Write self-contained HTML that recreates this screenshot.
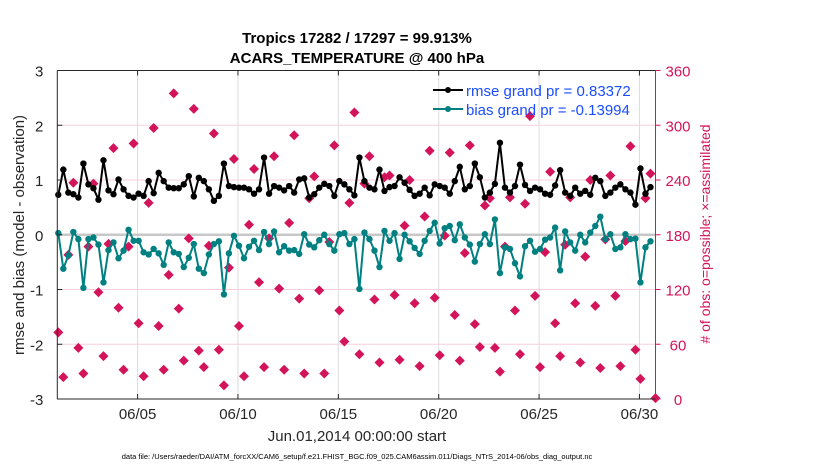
<!DOCTYPE html>
<html><head><meta charset="utf-8"><style>
body{margin:0;background:#fff;}
svg text{font-family:"Liberation Sans",Arial,sans-serif;}
</style></head><body>
<svg id="chart" width="830" height="470" viewBox="0 0 830 470" xmlns="http://www.w3.org/2000/svg">
<rect width="830" height="470" fill="#fff"/>
<g id="grid"></g>
<g id="marks"></g>
<g id="axes"></g>
<text x="357" y="43" text-anchor="middle" font-size="15" font-weight="bold">Tropics 17282 / 17297 = 99.913%</text>
<text x="357" y="63" text-anchor="middle" font-size="15" font-weight="bold">ACARS_TEMPERATURE @ 400 hPa</text>
<text x="357" y="441" text-anchor="middle" font-size="15" fill="#262626">Jun.01,2014 00:00:00 start</text>
<text x="357" y="459" text-anchor="middle" font-size="7.5" fill="#000">data file: /Users/raeder/DAI/ATM_forcXX/CAM6_setup/f.e21.FHIST_BGC.f09_025.CAM6assim.011/Diags_NTrS_2014-06/obs_diag_output.nc</text>
<text transform="translate(24,235) rotate(-90)" text-anchor="middle" font-size="15" fill="#262626">rmse and bias (model - observation)</text>
<text transform="translate(710,234) rotate(-90)" text-anchor="middle" font-size="14" fill="#d4145a"># of obs: o=possible; ×=assimilated</text>
<g>
<line x1="433" y1="90" x2="463" y2="90" stroke="#000" stroke-width="2"/>
<circle cx="448" cy="90" r="3" fill="#000"/>
<text x="466" y="96" font-size="15" fill="#1a4dff">rmse grand pr = 0.83372</text>
<line x1="433" y1="109" x2="463" y2="109" stroke="#008080" stroke-width="2"/>
<circle cx="448" cy="109" r="3" fill="#008080"/>
<text x="466" y="115" font-size="15" fill="#1a4dff">bias grand pr = -0.13994</text>
</g>
</svg>
<script>
const rmse=[0.73,1.19,0.77,0.74,0.68,1.30,0.92,0.85,0.64,1.36,0.81,0.74,1.01,0.83,0.71,0.68,0.75,0.71,0.98,0.76,1.13,0.98,0.86,0.85,0.85,0.92,1.07,0.70,1.04,0.98,0.83,
0.62,0.71,1.30,0.89,0.87,0.86,0.86,0.83,0.75,0.83,1.41,0.75,0.89,0.86,0.81,0.89,0.77,1.01,1.03,0.68,0.74,0.86,0.93,0.89,0.71,0.98,0.92,0.83,0.72,1.41,
0.98,0.86,0.83,1.19,0.80,0.87,0.89,1.05,0.95,0.82,0.71,0.75,0.86,0.72,0.92,0.89,0.86,0.75,0.98,1.24,0.83,0.89,1.30,1.05,0.68,0.77,0.93,1.68,0.86,
0.77,0.89,1.28,0.91,0.80,0.86,0.83,0.75,0.73,0.90,1.18,0.77,0.71,0.86,0.75,0.80,0.73,1.04,0.98,0.71,0.77,0.86,0.92,0.83,0.77,0.55,1.21,0.75,0.87];
const bias=[0.03,-0.62,-0.38,0.05,-0.08,-0.97,-0.08,-0.05,-0.18,-0.87,-0.28,-0.14,-0.43,-0.29,0.09,-0.11,-0.11,-0.32,-0.36,-0.26,-0.34,-0.55,-0.14,-0.32,-0.35,-0.59,-0.42,-0.17,-0.62,-0.70,-0.36,
-0.17,-0.12,-1.09,-0.34,-0.02,-0.2,-0.43,-0.22,-0.11,-0.28,0.05,-0.17,0.06,-0.32,-0.21,-0.29,-0.28,-0.35,0.01,-0.18,-0.23,-0.1,0,-0.17,-0.29,0.01,0.03,-0.17,-0.08,
-0.99,0.04,-0.08,-0.29,-0.59,0.07,-0.11,0.03,-0.44,0,-0.12,-0.24,-0.35,-0.11,0.07,0.22,-0.16,0.12,0.16,-0.1,0.19,-0.05,-0.18,-0.49,-0.17,0.01,-0.17,0.28,-0.70,-0.23,
-0.26,-0.52,-0.76,-0.21,-0.11,-0.31,-0.26,-0.09,-0.05,0.13,-0.65,0.06,-0.14,-0.29,0,-0.14,0.04,0.16,0.33,-0.08,0.01,-0.26,-0.23,0.01,-0.08,-0.07,-0.87,-0.23,-0.12];
const nobs=[73,24,158,237,56,28,167,236,117,47,170,275,100,32,167,280,83,25,215,297,80,32,136,335,99,42,176,318,53,35,168,
291,54,15,144,263,80,25,191,252,128,35,176,266,121,32,193,289,110,28,220,244,119,28,172,278,97,63,215,314,
49,236,266,109,40,243,245,114,43,190,240,105,36,200,272,111,48,179,270,92,42,160,278,82,57,212,220,56,30,167,
221,97,49,214,310,113,35,161,249,83,47,169,221,105,40,156,240,102,34,175,245,113,36,173,277,54,22,220,247,1];
const xTickDays=[4,9,14,19,24,29];
const xTickLabels=["06/05","06/10","06/15","06/20","06/25","06/30"];
const leftTicks=[-3,-2,-1,0,1,2,3];
const rightTicks=[0,60,120,180,240,300,360];
const stepDays=0.25, t0=0.05;

const L=57.3,R=655.5,T=70.5,B=399;
const X0=0,X1=29.8;
const x=d=>L+(d-X0)/(X1-X0)*(R-L);
const yl=v=>B-(v+3)/6*(B-T);
const yr=v=>B-v/360*(B-T);
const NS='http://www.w3.org/2000/svg';
function mk(tag,attrs,parent){const e=document.createElementNS(NS,tag);for(const k in attrs)e.setAttribute(k,attrs[k]);parent.appendChild(e);return e;}
const grid=document.getElementById('grid'),marks=document.getElementById('marks'),axes=document.getElementById('axes');

xTickDays.forEach((d,i)=>{
  const g=mk('line',{x1:x(d),x2:x(d),y1:T,y2:B,stroke:'#dcdcdc','stroke-width':1},grid);
  
  
  mk('line',{x1:x(d),x2:x(d),y1:B,y2:B-5,stroke:'#262626'},axes);
  mk('line',{x1:x(d),x2:x(d),y1:T,y2:T+5,stroke:'#262626'},axes);
  const t=mk('text',{x:x(d),y:B+20,'text-anchor':'middle','font-size':15,fill:'#262626'},axes);
  t.textContent=xTickLabels[i];
  
  
});
rightTicks.forEach(v=>{
  if(v>0&&v<360){
    const g=mk('line',{x1:L,x2:R,y1:yr(v),y2:yr(v),stroke:v===180?'#c8c8c8':'#f5d0dc','stroke-width':v===180?2.5:1},grid);
    
    
  }
  mk('line',{x1:R,x2:R+5,y1:yr(v),y2:yr(v),stroke:'#d4145a'},axes);
  const t=mk('text',{x:678,y:yr(v)+6,'text-anchor':'middle','font-size':15,fill:'#d4145a'},axes);
  t.textContent=v;
  
  
});
leftTicks.forEach(v=>{
  mk('line',{x1:L,x2:L+5,y1:yl(v),y2:yl(v),stroke:'#262626'},axes);
  const t=mk('text',{x:L-14,y:yl(v)+6,'text-anchor':'end','font-size':15,fill:'#262626'},axes);
  t.textContent=v;
  
  
});
mk('line',{x1:L,x2:R,y1:B,y2:B,stroke:'#262626'},axes);
mk('line',{x1:L,x2:R,y1:T,y2:T,stroke:'#262626'},axes);
mk('line',{x1:L,x2:L,y1:T,y2:B,stroke:'#262626'},axes);
mk('line',{x1:R,x2:R,y1:T,y2:B,stroke:'#d4145a'},axes);

const day=i=>t0+i*stepDays;
nobs.forEach((v,i)=>{
  const cx=x(day(i)),cy=yr(v);
  const p=mk('path',{d:`M${cx} ${cy-5}L${cx+5} ${cy}L${cx} ${cy+5}L${cx-5} ${cy}Z`,fill:'#d4145a'},marks);
  
  
});
function series(arr,color,name){
  const pts=arr.map((v,i)=>x(day(i)).toFixed(1)+','+yl(v).toFixed(1)).join(' ');
  const pl=mk('polyline',{points:pts,fill:'none',stroke:color,'stroke-width':2},marks);
  
  
  arr.forEach((v,i)=>{
    const c=mk('circle',{cx:x(day(i)),cy:yl(v),r:3.2,fill:color},marks);
    
    
  });
}
series(bias,'#008080','bias');
series(rmse,'#000','rmse');
</script>
</body></html>
